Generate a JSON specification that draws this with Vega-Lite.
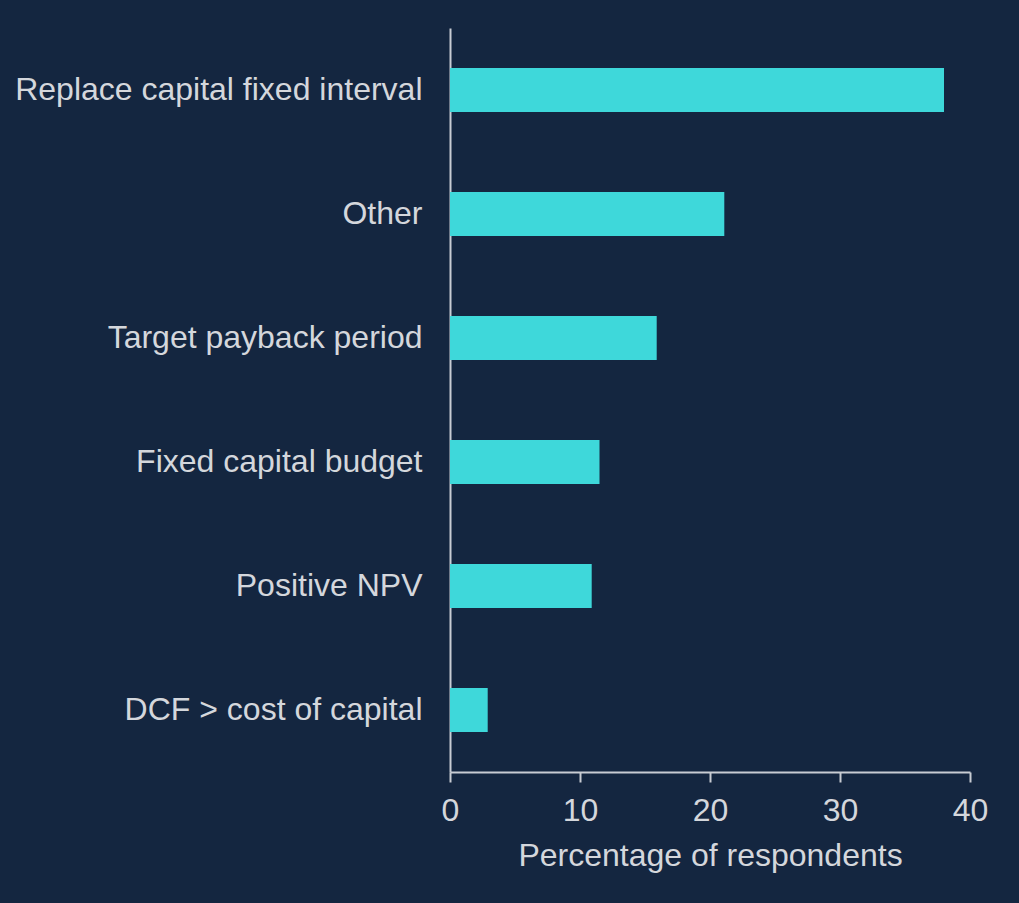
{
  "$schema": "https://vega.github.io/schema/vega-lite/v6.json",
  "autosize": {"type": "none"},
  "padding": {"left": 450, "top": 28, "right": 49, "bottom": 131},
  "width": 520,
  "height": 744,
  "background": "#142640",
  "data": {"values": [
    {"method": "Replace capital fixed interval", "pct": 38},
    {"method": "Other", "pct": 21.1},
    {"method": "Target payback period", "pct": 15.9},
    {"method": "Fixed capital budget", "pct": 11.5},
    {"method": "Positive NPV", "pct": 10.9},
    {"method": "DCF > cost of capital", "pct": 2.9}
  ]},
  "mark": {"type": "bar", "color": "#3ed8da"},
  "encoding": {
    "y": {
      "field": "method", "type": "nominal", "sort": null,
      "scale": {"paddingInner": 0.645, "paddingOuter": 0.3225},
      "axis": {
        "title": null, "ticks": false, "domainColor": "#c8ccd3", "domainWidth": 2,
        "labelColor": "#d4d7dc", "labelFont": "Arial", "labelFontSize": 32,
        "labelPadding": 28, "labelLimit": 500, "grid": false
      }
    },
    "x": {
      "field": "pct", "type": "quantitative",
      "scale": {"domain": [0, 40], "nice": false},
      "axis": {
        "values": [0, 10, 20, 30, 40], "title": "Percentage of respondents",
        "titleColor": "#d4d7dc", "titleFont": "Arial", "titleFontSize": 32,
        "titleFontWeight": "normal", "titlePadding": 14,
        "domainColor": "#c8ccd3", "domainWidth": 2, "tickColor": "#c8ccd3", "tickWidth": 2,
        "tickSize": 10, "labelColor": "#d4d7dc", "labelFont": "Arial", "labelFlush": false,
        "labelFontSize": 32, "labelPadding": 13, "grid": false
      }
    }
  },
  "config": {"view": {"stroke": null}}
}
